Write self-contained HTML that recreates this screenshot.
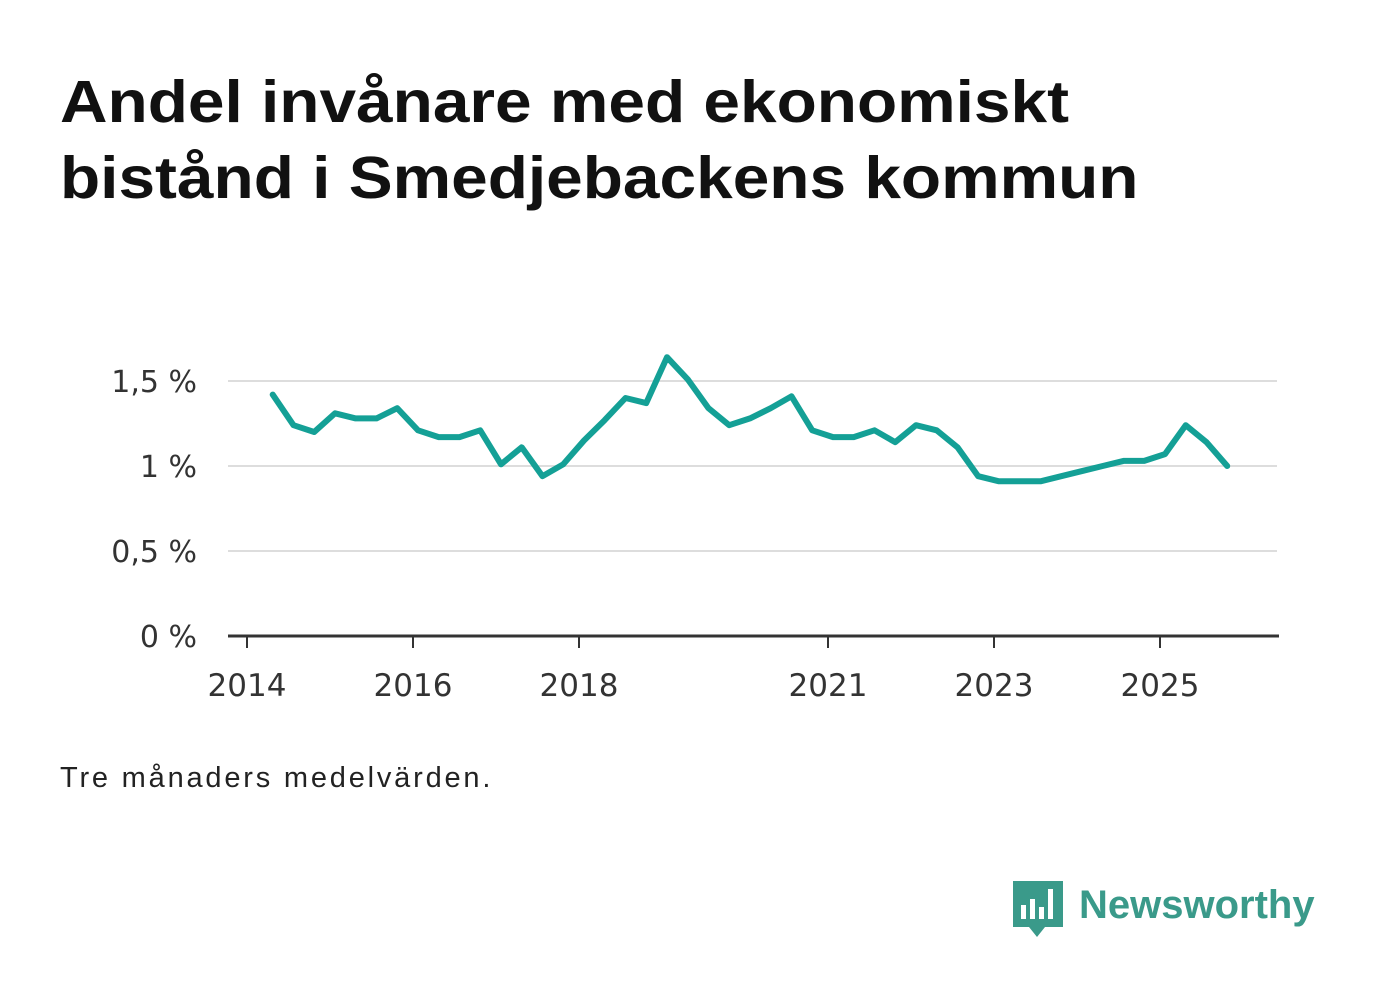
<!DOCTYPE html>
<html><head><meta charset="utf-8"><style>
body{margin:0;background:#fff;width:1382px;height:999px;overflow:hidden;font-family:"Liberation Sans",sans-serif}
h1{position:absolute;left:60px;top:64px;margin:0;font-size:59px;line-height:76px;font-weight:bold;color:#111;transform:scaleX(1.115);transform-origin:0 0;white-space:nowrap}
.note{position:absolute;left:60px;top:762px;font-size:29px;color:#222;letter-spacing:2.8px}
</style></head><body>
<h1>Andel invånare med ekonomiskt<br>bistånd i Smedjebackens kommun</h1>
<svg id="chart" width="1382" height="999" style="position:absolute;left:0;top:0"></svg>
<div class="note">Tre månaders medelvärden.</div>
<svg width="320" height="70" style="position:absolute;left:1005px;top:875px">
<path d="M8 6h50v46H40l-8 10-8-10H8z" fill="#3a9a8a"/>
<rect x="16" y="30" width="5" height="14" fill="#fff"/><rect x="25" y="24" width="5" height="20" fill="#fff"/><rect x="34" y="32" width="5" height="12" fill="#fff"/><rect x="43" y="14" width="5" height="30" fill="#fff"/>
<text x="74" y="43" font-family="Liberation Sans" font-weight="bold" font-size="40" fill="#3a9a8a">Newsworthy</text>
</svg>
<script>
const yTicks=[0,0.5,1,1.5];
const yLabels=["0 %","0,5 %","1 %","1,5 %"];
const xTicks=[2014,2016,2018,2021,2023,2025];
const startYear=2014.31;
const values=[1.42,1.24,1.20,1.31,1.28,1.28,1.34,1.21,1.17,1.17,1.21,1.01,1.11,0.94,1.01,1.15,1.27,1.40,1.37,1.64,1.51,1.34,1.24,1.28,1.34,1.41,1.21,1.17,1.17,1.21,1.14,1.24,1.21,1.11,0.94,0.91,0.91,0.91,0.94,0.97,1.00,1.03,1.03,1.07,1.24,1.14,1.00];
const svg=document.getElementById('chart');const NS='http://www.w3.org/2000/svg';
const X=t=>247+(t-2014)*83;const Y=v=>636-v*170;
function mk(tag,attrs,text){const e=document.createElementNS(NS,tag);for(const k in attrs)e.setAttribute(k,attrs[k]);if(text!==undefined)e.textContent=text;svg.appendChild(e);return e;}
yTicks.forEach((v,i)=>{
 if(v>0){const g=mk('line',{x1:228,x2:1277,y1:Y(v),y2:Y(v),stroke:'#ddd','stroke-width':2});
 
 }
 const t=mk('text',{x:197,y:Y(v)+11,'text-anchor':'end','font-size':30,fill:'#333','font-family':'DejaVu Sans'},yLabels[i]);
 
 
});
const ax=mk('line',{x1:228,x2:1279,y1:636,y2:636,stroke:'#333','stroke-width':3});


xTicks.forEach(yr=>{
 const tk=mk('line',{x1:X(yr),x2:X(yr),y1:636,y2:648,stroke:'#333','stroke-width':2});
 
 
 const t=mk('text',{x:X(yr),y:696,'text-anchor':'middle','font-size':31,fill:'#333','font-family':'DejaVu Sans'},String(yr));
 
 
});
const pts=values.map((v,i)=>X(startYear+i*0.25).toFixed(1)+','+Y(v).toFixed(1)).join(' ');
const line=mk('polyline',{points:pts,fill:'none',stroke:'#14a096','stroke-width':6,'stroke-linejoin':'round','stroke-linecap':'round'});


</script>
</body></html>
